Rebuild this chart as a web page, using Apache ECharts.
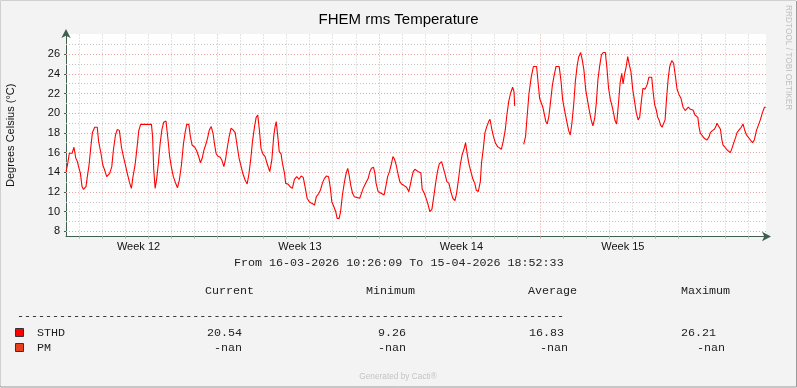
<!DOCTYPE html>
<html><head><meta charset="utf-8">
<script src="https://cdn.jsdelivr.net/npm/echarts@6/dist/echarts.min.js"></script>
<style>html,body{margin:0;padding:0;background:#f3f3f3}#c{width:797px;height:388px}</style>
</head><body><div id="c"></div>
<script>
// x values: days since Mon 16-03-2026 00:00
const rangeStart = 0.435, rangeEnd = 30.786;
const sthdPart1 = [[0.44,14.06],[0.51,14.91],[0.58,15.93],[0.70,15.93],[0.78,16.54],[0.84,16.54],[0.86,15.42],[0.93,15.08],[0.98,14.57],[1.06,13.89],[1.13,12.54],[1.19,12.26],[1.24,12.06],[1.30,12.54],[1.38,13.89],[1.43,14.64],[1.51,16.54],[1.58,18.03],[1.68,18.57],[1.79,18.57],[1.85,17.11],[1.95,15.93],[2.03,14.74],[2.11,14.23],[2.20,13.55],[2.26,13.38],[2.33,13.89],[2.42,14.57],[2.49,16.26],[2.58,17.79],[2.66,18.36],[2.75,18.23],[2.84,16.54],[2.92,15.65],[3.01,14.74],[3.10,13.82],[3.20,12.87],[3.27,12.36],[3.34,13.55],[3.43,14.74],[3.52,16.60],[3.59,18.23],[3.67,18.87],[4.14,18.87],[4.19,17.62],[4.24,14.23],[4.30,12.36],[4.37,13.38],[4.44,14.91],[4.51,16.77],[4.59,18.30],[4.67,19.08],[4.77,19.21],[4.86,17.28],[4.93,15.58],[5.00,14.57],[5.09,13.55],[5.18,12.94],[5.27,12.43],[5.35,13.21],[5.44,14.74],[5.53,16.94],[5.60,18.03],[5.67,18.87],[5.76,18.87],[5.83,17.62],[5.90,16.77],[6.02,16.54],[6.10,16.19],[6.19,15.58],[6.26,14.97],[6.34,15.42],[6.41,16.19],[6.49,16.77],[6.57,17.45],[6.65,18.30],[6.73,18.64]];
const sthdPart2 = [[6.75,18.71],[6.81,17.96],[6.87,16.94],[6.94,15.93],[7.01,15.65],[7.12,15.52],[7.19,15.25],[7.28,14.57],[7.36,15.42],[7.43,16.54],[7.51,17.62],[7.59,18.47],[7.68,18.30],[7.77,18.03],[7.85,16.77],[7.94,15.42],[8.03,14.57],[8.11,13.82],[8.20,13.21],[8.29,12.81],[8.36,13.72],[8.45,15.42],[8.52,17.11],[8.61,18.64],[8.68,19.58],[8.75,19.82],[8.82,18.30],[8.89,16.43],[8.97,15.86],[9.07,15.58],[9.15,14.91],[9.27,14.06],[9.36,15.25],[9.44,17.62],[9.50,18.64],[9.55,19.15],[9.62,17.62],[9.68,16.10],[9.76,15.86],[9.82,14.91],[9.91,13.89],[9.96,12.87],[10.05,12.81],[10.15,12.53],[10.25,12.36],[10.34,13.28],[10.44,13.55],[10.54,13.28],[10.63,13.62],[10.72,13.48],[10.80,12.53],[10.89,11.35],[10.98,11.01],[11.09,10.84],[11.21,10.67],[11.29,11.52],[11.38,11.79],[11.47,12.20],[11.55,12.87],[11.64,13.38],[11.73,13.62],[11.82,13.55],[11.90,12.36],[11.96,11.01],[12.05,10.50],[12.13,9.99],[12.19,9.31],[12.28,9.31],[12.34,9.99],[12.42,11.69],[12.51,13.04],[12.58,13.89],[12.65,14.40],[12.71,13.72],[12.78,12.70],[12.86,11.86],[12.94,11.52]];
const sthdPart3 = [[13.07,11.42],[13.17,11.35],[13.25,11.35],[13.32,12.36],[13.39,12.70],[13.46,13.04],[13.54,13.38],[13.61,14.06],[13.68,14.40],[13.77,14.50],[13.83,13.89],[13.88,12.87],[13.97,12.03],[14.06,11.92],[14.14,11.79],[14.23,11.69],[14.30,12.53],[14.38,13.55],[14.46,14.06],[14.55,14.91],[14.61,15.59],[14.68,15.32],[14.75,14.74],[14.84,13.72],[14.91,13.04],[14.98,12.81],[15.08,12.67],[15.20,12.47],[15.30,12.03],[15.36,12.70],[15.42,13.38],[15.49,14.06],[15.56,14.30],[15.63,14.40],[15.71,14.06],[15.82,13.96],[15.88,12.26],[15.97,11.86],[16.05,11.35],[16.14,10.67],[16.21,9.99],[16.30,10.23],[16.37,11.35],[16.46,12.87],[16.54,14.06],[16.62,14.84],[16.72,15.08],[16.80,15.08],[16.86,13.89],[16.95,13.04],[17.04,12.87],[17.12,12.03],[17.21,11.35],[17.30,11.11],[17.37,11.86],[17.44,13.04],[17.53,14.74],[17.61,15.76],[17.70,16.43],[17.76,17.01],[17.83,15.86],[17.90,14.91],[17.99,14.06],[18.08,13.28],[18.16,12.87],[18.22,12.20],[18.31,12.03],[18.40,13.04],[18.45,14.91],[18.53,16.43],[18.60,18.03],[18.68,18.64],[18.76,19.15],[18.82,19.38],[18.89,18.47],[18.97,17.62],[19.06,16.94],[19.15,16.60]];
const sthdPart4 = [[19.19,16.54],[19.31,16.33],[19.39,17.11],[19.48,18.30],[19.55,19.82],[19.63,21.18],[19.71,22.03],[19.80,22.64],[19.86,22.20],[19.89,20.74],[20.08,null],[20.28,16.84],[20.36,17.62],[20.44,19.99],[20.51,22.03],[20.61,23.72],[20.70,24.74],[20.84,24.74],[20.90,23.22],[20.97,21.52],[21.04,21.35],[21.11,20.61],[21.19,19.72],[21.24,19.15],[21.30,18.91],[21.37,19.66],[21.45,21.28],[21.52,22.77],[21.59,23.72],[21.68,24.74],[21.82,24.74],[21.90,23.22],[21.97,21.35],[22.05,20.33],[22.14,19.25],[22.23,18.23],[22.30,17.79],[22.37,18.98],[22.45,20.94],[22.52,23.22],[22.59,24.67],[22.66,25.69],[22.75,26.17],[22.82,25.42],[22.89,24.40],[22.97,22.37],[23.05,21.28],[23.12,20.33],[23.20,19.38],[23.28,18.71],[23.36,19.49],[23.43,21.08],[23.50,23.45],[23.57,24.74],[23.65,25.93],[23.73,26.17],[23.82,26.17],[23.89,24.57],[23.96,22.54],[24.04,21.35],[24.11,20.74],[24.18,19.99],[24.24,19.25],[24.31,18.91],[24.38,20.74],[24.46,23.05],[24.53,24.06],[24.59,22.98],[24.66,24.06],[24.72,24.67],[24.79,25.76],[24.86,24.91],[24.93,24.23],[25.01,22.37],[25.09,21.18],[25.16,20.06],[25.24,19.32]];
const sthdPart5 = [[25.31,19.60],[25.38,21.18],[25.45,22.54],[25.54,22.44],[25.63,22.88],[25.71,23.66],[25.83,23.66],[25.89,22.20],[25.96,20.84],[26.03,20.33],[26.09,19.58],[26.15,19.32],[26.21,18.81],[26.28,18.57],[26.34,18.47],[26.41,19.32],[26.47,21.35],[26.54,23.39],[26.61,24.74],[26.70,25.35],[26.78,25.08],[26.86,23.72],[26.93,22.44],[27.02,21.86],[27.10,21.52],[27.19,20.61],[27.28,20.27],[27.33,20.33],[27.42,20.61],[27.51,20.40],[27.62,20.33],[27.71,19.82],[27.83,19.58],[27.88,18.64],[27.94,17.96],[28.03,17.69],[28.11,17.45],[28.23,17.28],[28.32,17.62],[28.37,18.03],[28.46,18.23],[28.55,18.37],[28.61,18.64],[28.66,18.98],[28.74,18.98],[28.81,18.37],[28.87,17.35],[28.92,16.77],[29.01,16.54],[29.10,16.26],[29.18,16.10],[29.24,15.99],[29.31,16.43],[29.39,17.01],[29.47,17.55],[29.53,18.03],[29.62,18.30],[29.71,18.57],[29.79,18.91],[29.86,18.30],[29.94,17.79],[30.02,17.62],[30.11,17.28],[30.20,17.01],[30.28,17.28],[30.37,18.23],[30.46,18.81],[30.54,19.32],[30.63,20.06],[30.72,20.61],[30.78,20.61]];

const yLabelTicks = [8,10,12,14,16,18,20,22,24,26];
const yMinorTicks = [9,11,13,15,17,19,21,23,25,27];
const dayTicks = [1,2,3,4,5,6,8,9,10,11,12,13,15,16,17,18,19,20,22,23,24,25,26,27,29,30];
const weekTicks = [7,14,21,28];
const allDayTicks = [1,2,3,4,5,6,7,8,9,10,11,12,13,14,15,16,17,18,19,20,21,22,23,24,25,26,27,28,29,30];
const weekLabelDays = [3.58,10.58,17.58,24.58];
const weekLabels = ['Week 12','Week 13','Week 14','Week 15'];

const titleText = 'FHEM rms Temperature';
const yTitle = 'Degrees Celsius (°C)';
const periodText = 'From 16-03-2026 10:26:09 To 15-04-2026 18:52:33';
const statHeaders = ['Current','Minimum','Average','Maximum'];
const legendNames = ['STHD','PM'];
const legendColors = ['#ff0000','#e8401c'];
const statCurrent = ['20.54','-nan'];
const statMinimum = ['9.26','-nan'];
const statAverage = ['16.83','-nan'];
const statMaximum = ['26.21','-nan'];

const sthdData = [].concat(sthdPart1, sthdPart2, sthdPart3, sthdPart4, sthdPart5);

const chart = echarts.init(document.getElementById('c'), null, {renderer:'canvas'});
const mono = {fontFamily:'Liberation Mono', fontSize:11.7, fill:'#222', verticalAlign:'middle'};
const graphics = [];
// frame
graphics.push({type:'polyline', shape:{points:[[0.5,387],[0.5,0.5],[796,0.5]]}, style:{stroke:'#d0d0d0', lineWidth:1, fill:null}});
graphics.push({type:'polyline', shape:{points:[[1,387],[796.5,387],[796.5,1]]}, style:{stroke:'#9a9a9a', lineWidth:1, fill:null}, z:100});
graphics.push({type:'polyline', shape:{points:[[0.5,386],[0.5,387]]}, style:{stroke:'#9a9a9a', lineWidth:1}});
graphics.push({type:'text', x:234, y:263, style:Object.assign({text:periodText}, mono)});
const headX = [205,366,528,681];
statHeaders.forEach((h,i)=>graphics.push({type:'text', x:headX[i], y:291, style:Object.assign({text:h}, mono)}));
graphics.push({type:'text', x:17, y:316, style:Object.assign({text:'-'.repeat(78)}, mono)});
const rowY = [333, 348];
const valX = [[207,214],[378,378],[529,540],[681,697]];
const stats = [statCurrent, statMinimum, statAverage, statMaximum];
legendNames.forEach((n,r)=>{
  graphics.push({type:'rect', shape:{x:15.5, y:rowY[r]-4.5, width:8, height:8}, style:{fill:legendColors[r], stroke:'#333', lineWidth:1}});
  graphics.push({type:'text', x:37, y:rowY[r], style:Object.assign({text:n}, mono)});
  stats.forEach((s,c)=>graphics.push({type:'text', x:valX[c][r], y:rowY[r], style:Object.assign({text:s[r]}, mono)}));
});
graphics.push({type:'text', x:398, y:377, style:{text:'Generated by Cacti®', fontFamily:'Liberation Sans', fontSize:8.3, fill:'#c4c4c4', align:'center', verticalAlign:'middle'}});
graphics.push({type:'text', x:788, y:5, rotation:-Math.PI/2, style:{text:'RRDTOOL / TOBI OETIKER', fontFamily:'Liberation Sans', fontSize:8.3, fill:'#c0c0c0', align:'left', verticalAlign:'middle'}});

const minorStyle = {color:'#c6c6c6', type:[1,2], width:1};
const majorStyle = {color:'#e8a0a0', type:[1,2], width:1};
const gridMarks = [].concat(
  yMinorTicks.map(v=>({yAxis:v, lineStyle:minorStyle})),
  dayTicks.map(v=>({xAxis:v, lineStyle:minorStyle})),
  yLabelTicks.map(v=>({yAxis:v, lineStyle:majorStyle})),
  weekTicks.map(v=>({xAxis:v, lineStyle:majorStyle}))
);
const axisColor = '#3f5f4f';
chart.setOption({
  animation:false,
  backgroundColor:'#f3f3f3',
  title:{text:titleText, left:'center', top:12, padding:0, textStyle:{fontFamily:'Liberation Sans', fontSize:15, fontWeight:'normal', color:'#000'}},
  grid:{left:66, right:31, top:34, bottom:151.5, show:true, backgroundColor:'#ffffff', borderWidth:0, containLabel:false, outerBoundsMode:'none'},
  xAxis:{type:'value', min:rangeStart, max:rangeEnd,
    axisLine:{show:true, lineStyle:{color:axisColor, width:1}, symbol:['none','arrow'], symbolSize:[7,9], symbolOffset:[0,5]},
    axisTick:{show:true, customValues:allDayTicks, length:2, lineStyle:{color:'#b0b0b0', width:1}}, splitLine:{show:false},
    axisLabel:{customValues:weekLabelDays, formatter:(v)=>{const i=weekLabelDays.indexOf(v); return i>=0?weekLabels[i]:'';}, margin:5, fontFamily:'Liberation Sans', fontSize:11, color:'#111', showMinLabel:true, showMaxLabel:true}},
  yAxis:{type:'value', min:7.47, max:28.05, name:yTitle, nameLocation:'middle', nameGap:50, nameRotate:90,
    nameTextStyle:{fontFamily:'Liberation Sans', fontSize:11, color:'#111'},
    axisLine:{show:true, lineStyle:{color:axisColor, width:1}, symbol:['none','arrow'], symbolSize:[7,9], symbolOffset:[0,5]},
    axisTick:{show:true, customValues:yLabelTicks, length:2, lineStyle:{color:axisColor, width:1}}, splitLine:{show:false},
    axisLabel:{customValues:yLabelTicks, margin:6, fontFamily:'Liberation Sans', fontSize:11, color:'#111'}},
  series:[
    {type:'line', data:[], silent:true, z:1, markLine:{silent:true, symbol:'none', label:{show:false}, animation:false, z:1, data:gridMarks}},
    {type:'line', name:legendNames[0], data:sthdData, showSymbol:false, connectNulls:false, z:3,
     lineStyle:{color:legendColors[0], width:1.1}, itemStyle:{color:legendColors[0]}}
  ],
  graphic:graphics
});
</script></body></html>
